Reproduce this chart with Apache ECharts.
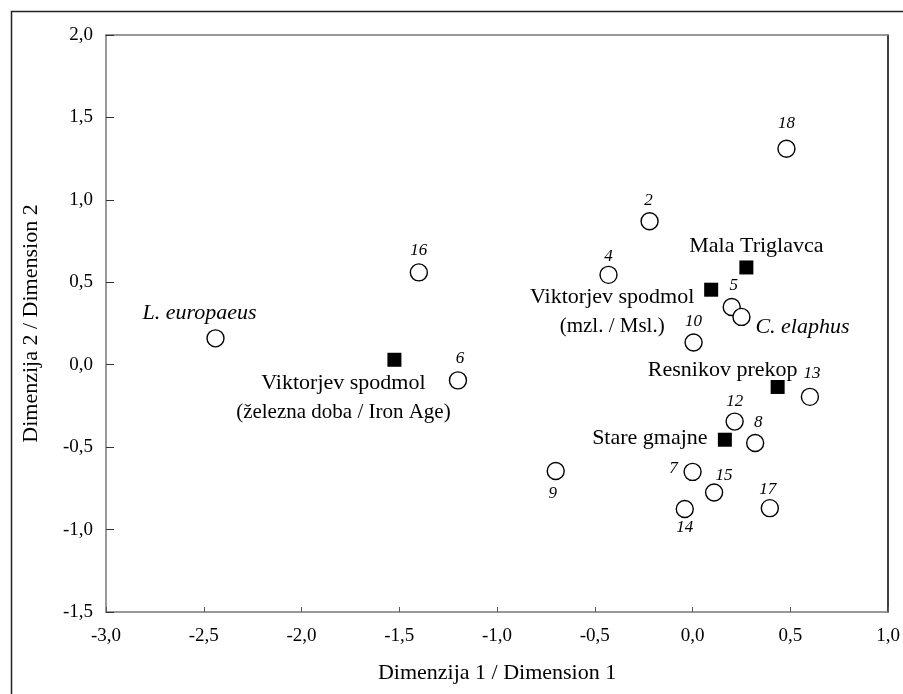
<!DOCTYPE html>
<html>
<head>
<meta charset="utf-8">
<script src="https://cdn.jsdelivr.net/npm/echarts@6/dist/echarts.min.js"></script>
<style>
html,body{margin:0;padding:0;background:#fff;}
#chart{width:903px;height:694px;}
</style>
</head>
<body>
<div id="chart"></div>
<script>
// ---- data ----
const sampleNames = ['2','4','5','6','7','8','9','10','12','13','14','15','16','17','18'];
const sampleX = [-0.22, -0.43, 0.20, -1.20, 0.00, 0.32, -0.70, 0.005, 0.215, 0.60, -0.04, 0.11, -1.40, 0.395, 0.48];
const sampleY = [0.87, 0.545, 0.35, -0.095, -0.65, -0.475, -0.645, 0.135, -0.345, -0.195, -0.875, -0.775, 0.56, -0.87, 1.31];

const speciesNames = ['L. europaeus', 'C. elaphus'];
const speciesX = [-2.44, 0.25];
const speciesY = [0.16, 0.29];

const siteNames = ['Mala Triglavca', 'Viktorjev spodmol', 'Resnikov prekop', 'Stare gmajne', 'Viktorjev spodmol'];
const siteSubNames = ['', '(mzl. / Msl.)', '', '', '(železna doba / Iron Age)'];
const siteX = [0.275, 0.095, 0.435, 0.165, -1.525];
const siteY = [0.59, 0.455, -0.135, -0.455, 0.03];

const xTicks = [-3.0, -2.5, -2.0, -1.5, -1.0, -0.5, 0.0, 0.5, 1.0];
const yTicks = [-1.5, -1.0, -0.5, 0.0, 0.5, 1.0, 1.5, 2.0];
const xTitle = 'Dimenzija 1 / Dimension 1';
const yTitle = 'Dimenzija 2 / Dimension 2';

// ---- layout (label offsets, px) ----
const sampleLabelOffset = {
  '2':[-1,-21], '4':[0,-18], '5':[2,-21], '6':[2,-22], '7':[-19,-3], '8':[3,-20],
  '9':[-3,22], '10':[0,-21], '12':[0,-20], '13':[2,-23], '14':[0,19], '15':[10,-17],
  '16':[0,-22], '17':[-2,-19], '18':[0,-25]
};
const speciesLabelOffset = [[-16,-25],[61,10]];
const siteLabelOffset = [[10,-21],[-99,22],[-55,-17],[-75,-2],[-51,38]];
const siteLineHeight = [24, 29, 24, 24, 30];

const FONT = "'Liberation Serif','DejaVu Serif',serif";
const fmt = v => v.toFixed(1).replace('.', ',');

const sampleData = sampleNames.map((n,i)=>({
  value:[sampleX[i], sampleY[i]],
  label:{show:true, position:'inside', formatter:n, offset:sampleLabelOffset[n],
    fontFamily:FONT, fontStyle:'italic', fontSize:17, color:'#000'}
}));
const speciesData = speciesNames.map((n,i)=>({
  value:[speciesX[i], speciesY[i]],
  label:{show:true, position:'inside', formatter:n, offset:speciesLabelOffset[i],
    fontFamily:FONT, fontStyle:'italic', fontSize:22, color:'#000'}
}));
const siteData = siteNames.map((n,i)=>({
  value:[siteX[i], siteY[i]],
  label:{show:true, position:'inside', offset:siteLabelOffset[i],
    formatter: siteSubNames[i] ? '{a|'+n+'}\n{b|'+siteSubNames[i]+'}' : '{a|'+n+'}',
    align:'center', verticalAlign:'middle',
    rich:{
      a:{fontFamily:FONT, fontSize:22, color:'#000', lineHeight:siteLineHeight[i], align:'center'},
      b:{fontFamily:FONT, fontSize:21, color:'#000', lineHeight:siteLineHeight[i], align:'center'}
    }}
}));

const chart = echarts.init(document.getElementById('chart'), null, {renderer:'canvas'});
chart.setOption({
  animation:false,
  backgroundColor:'#fff',
  graphic:[{type:'rect', left:9, top:9, shape:{x:0,y:0,width:1000,height:1000},
    style:{fill:'none', stroke:'#222', lineWidth:1.5}, silent:true, z:-1}],
  grid:{left:106, right:14, top:35, bottom:82, containLabel:false},
  xAxis:[{
    type:'value', min:xTicks[0], max:xTicks[xTicks.length-1], interval:0.5, position:'bottom',
    name:xTitle, nameLocation:'middle', nameGap:50,
    nameTextStyle:{fontFamily:FONT, fontSize:22, color:'#000'},
    axisLine:{show:true, onZero:false, lineStyle:{color:'#777', width:1.5}},
    axisTick:{show:true, inside:true, length:5, lineStyle:{color:'#555', width:1}},
    axisLabel:{formatter:fmt, fontFamily:FONT, fontSize:19, color:'#000', margin:15},
    splitLine:{show:false}
  },{
    type:'value', min:xTicks[0], max:xTicks[xTicks.length-1], interval:0.5, position:'top',
    axisLine:{show:true, onZero:false, lineStyle:{color:'#777', width:1.5}},
    axisTick:{show:false}, axisLabel:{show:false}, splitLine:{show:false}
  }],
  yAxis:[{
    type:'value', min:yTicks[0], max:yTicks[yTicks.length-1], interval:0.5, position:'left',
    name:yTitle, nameLocation:'middle', nameGap:64, nameRotate:90,
    nameTextStyle:{fontFamily:FONT, fontSize:22, color:'#000'},
    axisLine:{show:true, onZero:false, lineStyle:{color:'#777', width:1.5}},
    axisTick:{show:true, inside:true, length:8, lineStyle:{color:'#333', width:1}},
    axisLabel:{formatter:fmt, fontFamily:FONT, fontSize:19, color:'#000', margin:13},
    splitLine:{show:false}
  },{
    type:'value', min:yTicks[0], max:yTicks[yTicks.length-1], interval:0.5, position:'right',
    axisLine:{show:true, onZero:false, lineStyle:{color:'#000', width:1.5}},
    axisTick:{show:false}, axisLabel:{show:false}, splitLine:{show:false}
  }],
  series:[
    {type:'scatter', name:'samples', symbol:'circle', symbolSize:17, data:sampleData,
      itemStyle:{color:'#fff', borderColor:'#000', borderWidth:1.4, opacity:1}},
    {type:'scatter', name:'species', symbol:'circle', symbolSize:17, data:speciesData,
      itemStyle:{color:'#fff', borderColor:'#000', borderWidth:1.4, opacity:1}},
    {type:'scatter', name:'sites', symbol:'rect', symbolSize:14, data:siteData,
      itemStyle:{color:'#000', opacity:1}}
  ]
});
</script>
</body>
</html>
